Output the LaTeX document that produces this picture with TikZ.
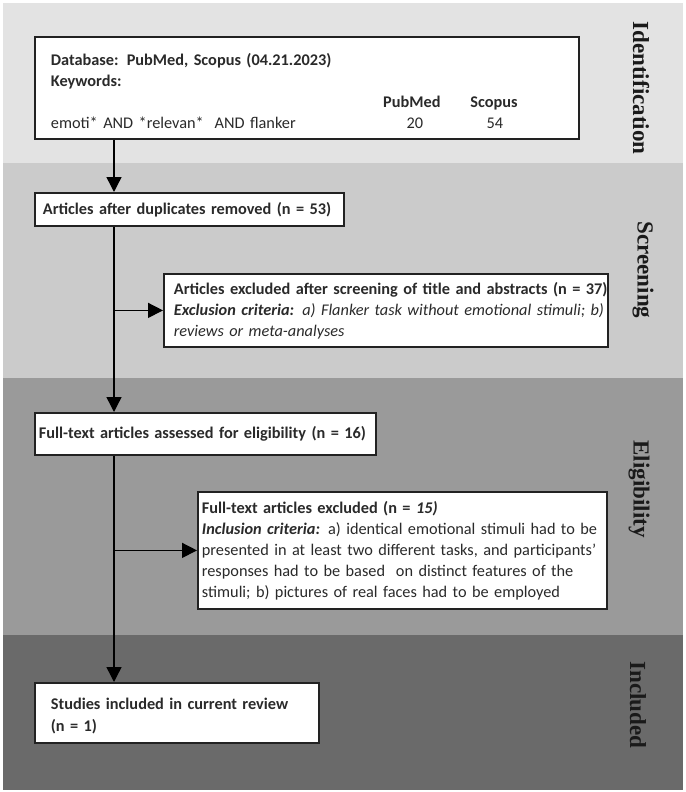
\documentclass[tikz,border=0pt]{standalone}
\usepackage{fontspec}
\setmainfont{Carlito}
\newfontfamily\phasefont{Liberation Serif}
\usetikzlibrary{arrows.meta}
\definecolor{bandA}{HTML}{E3E3E3}
\definecolor{bandB}{HTML}{CBCBCB}
\definecolor{bandC}{HTML}{9A9A9A}
\definecolor{bandD}{HTML}{6A6A6A}
\definecolor{boxline}{HTML}{222222}
\definecolor{txt}{HTML}{2A2A2A}
\definecolor{lbl}{HTML}{1A1A1A}
\begin{document}
\begin{tikzpicture}[x=1pt,y=-1pt,
  box/.style={draw=boxline, line width=1.8pt, fill=white, anchor=north west, align=left,
              inner ysep=0pt, font=\fontsize{16.3}{21}\selectfont, text=txt},
  arr/.style={line width=1.4pt, draw=black, -{Triangle[length=15pt,width=15pt]}},
  phase/.style={font=\phasefont\bfseries\fontsize{23}{23}\selectfont, rotate=-90, text=lbl, inner sep=0pt}]
\useasboundingbox (0,0) rectangle (685,792);
\fill[white] (0,0) rectangle (685,792);
% phase bands
\fill[bandA] (3,3) rectangle (683,163);
\fill[bandB] (3,163) rectangle (683,378);
\fill[bandC] (3,378) rectangle (683,635);
\fill[bandD] (3,635) rectangle (683,790);
% phase labels
\node[phase] (pid) at (641,88) {Identification};
\node[phase] (psc) at (643,270) {Screening};
\node[phase] (pel) at (639,489) {Eligibility};
\node[phase] (pin) at (638,705) {Included};
% boxes
\node[box, minimum width=544pt, minimum height=102pt, text width=512pt, inner xsep=16pt] (b1) at (34,36)
 {\rule{0pt}{18pt}\mbox{\textbf{Database: PubMed, Scopus (04.21.2023)}}\\
  \textbf{Keywords:}\\
  \hspace*{361pt}\makebox[0pt]{\textbf{PubMed}}\hspace*{82pt}\makebox[0pt]{\textbf{Scopus}}\\
  \makebox[364pt][l]{emoti* AND *relevan*\ \ AND flanker}\makebox[0pt]{20}\hspace*{80pt}\makebox[0pt]{54}};
\node[box, minimum width=309pt, minimum height=33pt, text width=293pt, inner xsep=8pt] (b2) at (34,192)
 {\mbox{\textbf{Articles after duplicates removed (n = 53)}}};
\node[box, minimum width=444pt, minimum height=73pt, text width=424pt, inner xsep=10pt] (b3) at (163,273)
 {\mbox{\textbf{Articles excluded after screening of title and abstracts (n = 37)}}\\
  \mbox{\textbf{\textit{Exclusion criteria:}} \textit{a) Flanker task without emotional stimuli; b)}}\\
  \mbox{\textit{reviews or meta-analyses}}};
\node[box, minimum width=341pt, minimum height=42pt, text width=333pt, inner xsep=4pt] (b4) at (34,412)
 {\mbox{\textbf{Full-text articles assessed for eligibility (n = 16)}}};
\node[box, minimum width=409pt, minimum height=117pt, text width=401pt, inner xsep=4pt] (b5) at (197,491)
 {\mbox{\textbf{Full-text articles excluded (n = \textit{15)}}}\\
  \mbox{\textbf{\textit{Inclusion criteria:}} a) identical emotional stimuli had to be}\\
  \mbox{presented in at least two different tasks, and participants'}\\
  \mbox{responses had to be based\ \ on distinct features of the}\\
  \mbox{stimuli; b) pictures of real faces had to be employed}};
\node[box, minimum width=284pt, minimum height=60pt, text width=252pt, inner xsep=16pt] (b6) at (34,682)
 {\rule{0pt}{18pt}\mbox{\textbf{Studies included in current review}}\\[1pt]
  \mbox{\textbf{(n = 1)}}};
% connectors
\coordinate (spine) at (114,0);
\draw[arr] (b1.south -| spine) -- (b2.north -| spine);
\draw[arr] (b2.south -| spine) -- (b4.north -| spine);
\draw[arr] (b3.west -| spine) -- (b3.west);
\draw[arr] (b4.south -| spine) -- (b6.north -| spine);
\draw[arr] (b5.west -| spine) -- (b5.west);
\end{tikzpicture}
\end{document}
